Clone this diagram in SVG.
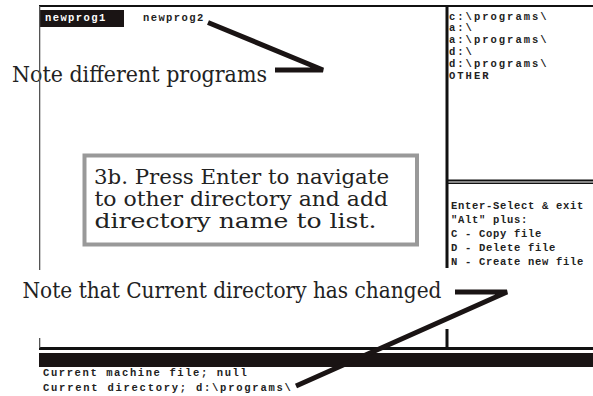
<svg xmlns="http://www.w3.org/2000/svg" width="593" height="396" viewBox="0 0 593 396">
<style>
.mono{font-family:"Liberation Mono","Courier New",monospace;font-weight:bold;font-size:10.5px;fill:#222}
.list{letter-spacing:2px}
.help{letter-spacing:0.7px}
.note{font-family:"DejaVu Serif","Liberation Serif",serif;font-size:22px;fill:#222}
.box{font-size:19.5px}
.arrow{fill:none;stroke:#1a1414;stroke-width:5;stroke-linejoin:miter}
</style>
<rect width="593" height="396" fill="#fff"/>
<g id="frame">
  <rect x="39" y="5" width="554" height="2" fill="#111"/>
  <rect x="445.5" y="5" width="3" height="263" fill="#111"/>
  <rect x="446" y="179.5" width="147" height="2" fill="#111"/>
  <rect x="446" y="182.5" width="147" height="1.5" fill="#111"/>
  <rect x="445.5" y="329" width="3" height="19" fill="#111"/>
  <rect x="39" y="347" width="554" height="3" fill="#111"/>
  <rect x="39" y="353" width="554" height="14" fill="#1a1414"/>
</g>
<g id="tabs">
  <rect x="39" y="10" width="85" height="17" fill="#1a1414"/>
  <text class="mono" x="45" y="20.5" style="fill:#fff;letter-spacing:1.4px">newprog1</text>
  <text class="mono" x="143" y="20.5" style="letter-spacing:1.4px">newprog2</text>
</g>
<g id="dir-list">
  <text class="mono list" x="449" y="19.5">c:\programs\</text>
  <text class="mono list" x="449" y="31.3">a:\</text>
  <text class="mono list" x="449" y="43.1">a:\programs\</text>
  <text class="mono list" x="449" y="54.9">d:\</text>
  <text class="mono list" x="449" y="66.7">d:\programs\</text>
  <text class="mono list" x="449" y="78.5">OTHER</text>
</g>
<g id="help">
  <text class="mono help" x="451" y="209">Enter-Select &amp; exit</text>
  <text class="mono help" x="451" y="223">"Alt" plus:</text>
  <text class="mono help" x="451" y="236.5">C - Copy file</text>
  <text class="mono help" x="451" y="250.5">D - Delete file</text>
  <text class="mono help" x="451" y="265">N - Create new file</text>
</g>
<g id="status">
  <text class="mono" x="43" y="376" style="letter-spacing:1.6px">Current machine file; null</text>
  <text class="mono" x="43" y="390.5" style="letter-spacing:1.75px">Current directory; d:\programs\</text>
</g>
<g id="note-programs">
  <text class="note" x="12" y="81.5" textLength="255" lengthAdjust="spacingAndGlyphs">Note different programs</text>
</g>
<g id="callout-3b">
  <rect x="84.5" y="155.5" width="332.5" height="89" fill="#fff" stroke="#999" stroke-width="4"/>
  <text class="note box" x="94" y="183.5" textLength="295" lengthAdjust="spacingAndGlyphs">3b. Press Enter to navigate</text>
  <text class="note box" x="94.5" y="205.5" textLength="293.5" lengthAdjust="spacingAndGlyphs">to other directory and add</text>
  <text class="note box" x="94.5" y="227.5" textLength="282" lengthAdjust="spacingAndGlyphs">directory name to list.</text>
</g>
<g id="note-directory">
  <text class="note" x="22.5" y="298" textLength="419" lengthAdjust="spacingAndGlyphs">Note that Current directory has changed</text>
</g>
<g id="left-edge">
  <rect x="39" y="6" width="1.3" height="264" fill="#555"/>
  <rect x="39" y="338" width="1.3" height="10" fill="#555"/>
</g>
<g id="connectors">
  <polyline class="arrow" points="208,22.5 323,70 275,70"/>
  <polyline class="arrow" points="455,292 507,292 296,386"/>
</g>
</svg>
